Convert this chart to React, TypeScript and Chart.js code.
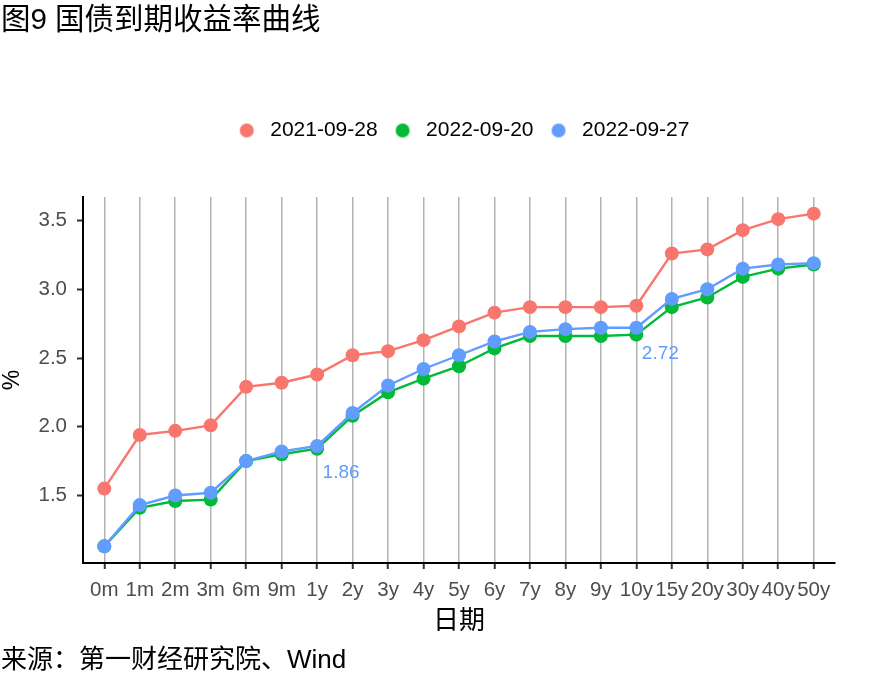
import React, { useEffect, useRef } from 'react';
import { Chart, registerables } from 'chart.js';

Chart.register(...registerables);

const categories = ['0m', '1m', '2m', '3m', '6m', '9m', '1y', '2y', '3y', '4y', '5y', '6y', '7y', '8y', '9y', '10y', '15y', '20y', '30y', '40y', '50y'];
const seriesNames = ['2021-09-28', '2022-09-20', '2022-09-27'];
const y20210928 = [1.55, 1.94, 1.97, 2.01, 2.29, 2.32, 2.38, 2.52, 2.55, 2.63, 2.73, 2.83, 2.87, 2.87, 2.87, 2.88, 3.26, 3.29, 3.43, 3.51, 3.55];
const y20220920 = [1.13, 1.41, 1.46, 1.47, 1.75, 1.80, 1.84, 2.08, 2.25, 2.35, 2.44, 2.57, 2.66, 2.66, 2.66, 2.67, 2.87, 2.94, 3.09, 3.15, 3.18];
const y20220927 = [1.13, 1.43, 1.50, 1.52, 1.75, 1.82, 1.86, 2.10, 2.30, 2.42, 2.52, 2.62, 2.69, 2.71, 2.72, 2.72, 2.93, 3.00, 3.15, 3.18, 3.19];
const seriesColors = ['#F8766D', '#00BA38', '#619CFF'];
const yTickValues = [1.5, 2.0, 2.5, 3.0, 3.5];
const annotatedCategories = ['1y', '10y'];

const titleText = '图9 国债到期收益率曲线';
const sourceText = '来源：第一财经研究院、Wind';
const xTitle = '日期';
const yTitle = '%';

const FONT = "'Liberation Sans', Arial, 'Noto Sans CJK SC', sans-serif";

function makeDot(color: string): HTMLCanvasElement {
  const c = document.createElement('canvas');
  c.width = 26;
  c.height = 16;
  const g = c.getContext('2d')!;
  g.fillStyle = color;
  g.beginPath();
  g.arc(13, 8, 7, 0, Math.PI * 2);
  g.fill();
  return c;
}

export default function App() {
  const ref = useRef<HTMLCanvasElement | null>(null);

  useEffect(() => {
    const canvas = ref.current;
    if (!canvas) return;
    const values = [y20210928, y20220920, y20220927];
    const dots = seriesColors.map(makeDot);

    const legendShift = {
      id: 'legendShift',
      afterLayout(chart: any) {
        const lg = chart.legend;
        if (!lg) return;
        const pad = 12;
        const itemH = 21;
        const curCenterY = lg.top + pad + itemH / 2;
        const dy = 130.5 - curCenterY;
        const lw = lg.lineWidths ? lg.lineWidths[0] : 0;
        const curX = (lg.left + pad + lg.right - lw) / 2;
        const dx = 233.7 - curX;
        lg.left += dx;
        lg.right += dx;
        lg.top += dy;
        lg.bottom += dy;
      },
    };

    const annot = {
      id: 'annot',
      afterDatasetsDraw(chart: any) {
        const { ctx, scales } = chart;
        const xs = scales.x;
        const ys = scales.y;
        ctx.save();
        ctx.font = `19px ${FONT}`;
        ctx.fillStyle = seriesColors[2];
        ctx.textAlign = 'center';
        ctx.textBaseline = 'middle';
        annotatedCategories.forEach((c) => {
          const i = categories.indexOf(c);
          const v = y20220927[i];
          ctx.fillText(v.toFixed(2), xs.getPixelForValue(i) + 24, ys.getPixelForValue(v) + 26.5);
        });
        ctx.restore();
      },
    };

    const chart = new Chart(canvas, {
      type: 'line',
      data: {
        datasets: seriesNames.map((name, k) => ({
          label: name,
          data: values[k].map((v, i) => ({ x: i, y: v })),
          borderColor: seriesColors[k],
          backgroundColor: seriesColors[k],
          pointBackgroundColor: seriesColors[k],
          pointBorderColor: seriesColors[k],
          pointRadius: 7,
          pointHoverRadius: 7,
          pointBorderWidth: 0,
          borderWidth: 2.4,
          tension: 0,
          order: 3 - k,
        })),
      },
      options: {
        responsive: false,
        animation: false,
        layout: { padding: { left: 1, right: 50, top: 0, bottom: 0 } },
        plugins: {
          title: {
            display: true,
            text: titleText,
            align: 'start',
            color: '#000000',
            font: { size: 29.5, family: FONT, weight: 'normal' },
            padding: { top: 3.3, bottom: 115.3 },
          },
          subtitle: {
            display: true,
            text: sourceText,
            position: 'bottom',
            align: 'start',
            color: '#000000',
            font: { size: 26, family: FONT, weight: 'normal' },
            padding: { top: 0, bottom: 11.4 },
          },
          legend: {
            display: true,
            position: 'top',
            align: 'center',
            labels: {
              usePointStyle: true,
              pointStyleWidth: 26,
              color: '#000000',
              font: { size: 21, family: FONT },
              padding: 12,
              generateLabels: (chart: any) => {
                const items = Chart.defaults.plugins.legend.labels.generateLabels(chart);
                return items
                  .slice()
                  .sort((a: any, b: any) => a.datasetIndex - b.datasetIndex)
                  .map((it: any) => ({ ...it, pointStyle: dots[it.datasetIndex] }));
              },
            },
          },
          tooltip: { enabled: false },
        },
        scales: {
          x: {
            type: 'linear',
            min: -0.6,
            max: 20.6,
            afterBuildTicks: (s: any) => {
              s.ticks = categories.map((_, i) => ({ value: i }));
            },
            afterFit: (s: any) => {
              s.height = 82.4;
            },
            ticks: {
              callback: (v: any) => categories[v as number],
              autoSkip: false,
              maxRotation: 0,
              minRotation: 0,
              color: '#4D4D4D',
              font: { size: 20.5, family: FONT },
              padding: 9,
            },
            grid: {
              color: '#B3B3B3',
              lineWidth: 1.5,
              tickColor: '#333333',
              tickLength: 6,
              tickWidth: 2,
            },
            border: { display: true, color: '#000000', width: 2 },
            title: {
              display: true,
              text: xTitle,
              color: '#000000',
              font: { size: 26, family: FONT },
              padding: { top: 0, bottom: 8.3 },
            },
          },
          y: {
            type: 'linear',
            min: 1.009,
            max: 3.671,
            afterBuildTicks: (s: any) => {
              s.ticks = yTickValues.map((v) => ({ value: v }));
            },
            afterFit: (s: any) => {
              s.width = 82;
            },
            ticks: {
              callback: (v: any) => Number(v).toFixed(1),
              color: '#4D4D4D',
              font: { size: 20.5, family: FONT },
              padding: 10,
            },
            grid: {
              drawOnChartArea: false,
              tickColor: '#333333',
              tickLength: 6,
              tickWidth: 2,
            },
            border: { display: true, color: '#000000', width: 2 },
            title: {
              display: true,
              text: yTitle,
              color: '#000000',
              font: { size: 23, family: FONT, lineHeight: 1 },
              padding: { top: 0, bottom: 0 },
            },
          },
        },
      },
      plugins: [legendShift, annot],
    } as any);

    return () => chart.destroy();
  }, []);

  return (
    <div style={{ position: 'absolute', left: 0, top: 0, width: 885, height: 688, background: '#ffffff' }}>
      <canvas ref={ref} width={885} height={688} />
    </div>
  );
}
